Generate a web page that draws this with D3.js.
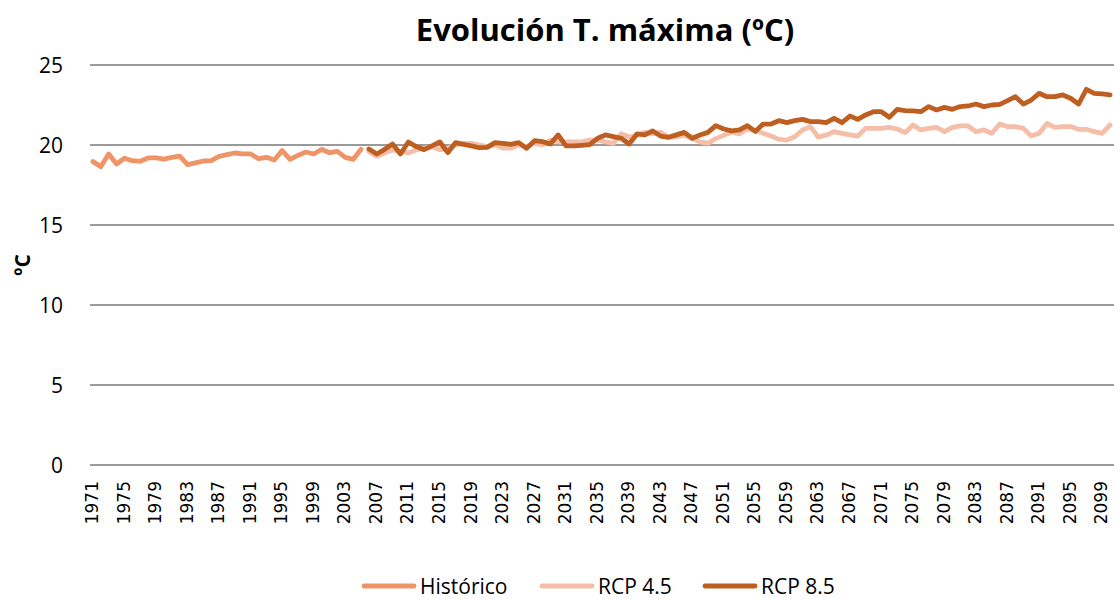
<!DOCTYPE html>
<html>
<head>
<meta charset="utf-8">
<script src="https://cdn.jsdelivr.net/npm/d3@7"></script>
<style>
  body { margin: 0; background: #fff; }
  text { font-family: "Open Sans", Lato, sans-serif; fill: #000; }
</style>
</head>
<body>
<svg id="chart" width="1114" height="599"></svg>
<script>
// years 1971..2100
var years = d3.range(1971, 2101);
var histYears = d3.range(1971, 2006);
var rcpYears = d3.range(2006, 2101);
var tickYears = d3.range(1971, 2100, 4);
var yTicks = [0, 5, 10, 15, 20, 25];

var historico = [18.96, 18.65, 19.44, 18.81, 19.17, 19.02, 18.98, 19.19, 19.19, 19.12,
  19.23, 19.31, 18.77, 18.88, 19.0, 19.02, 19.29, 19.4, 19.5, 19.44,
  19.44, 19.15, 19.23, 19.06, 19.65, 19.1, 19.35, 19.56, 19.44, 19.73,
  19.52, 19.6, 19.23, 19.1, 19.73];

var rcp45 = [19.6, 19.3, 19.5, 19.7, 19.6, 19.5, 19.7, 19.8, 19.9, 19.7,
  19.8, 20.0, 20.1, 20.1, 20.0, 19.9, 20.0, 19.8, 19.8, 20.0,
  19.9, 20.1, 20.0, 20.3, 20.2, 20.2, 20.2, 20.2, 20.3, 20.3,
  20.2, 20.1, 20.7, 20.5, 20.6, 20.8, 20.7, 20.8, 20.5, 20.5,
  20.6, 20.4, 20.2, 20.1, 20.4, 20.6, 20.8, 20.7, 21.0, 20.9,
  20.73, 20.56, 20.35, 20.31, 20.52, 20.94, 21.15, 20.48, 20.63, 20.83,
  20.73, 20.63, 20.56, 21.04, 21.04, 21.04, 21.1, 21.0, 20.77, 21.25,
  20.94, 21.04, 21.1, 20.83, 21.1, 21.19, 21.19, 20.83, 20.94, 20.73,
  21.31, 21.15, 21.15, 21.04, 20.56, 20.73, 21.35, 21.1, 21.15, 21.15,
  20.98, 20.98, 20.83, 20.73, 21.25];

var rcp85 = [19.75, 19.44, 19.73, 20.06, 19.44, 20.19, 19.9, 19.71, 19.95, 20.19,
  19.52, 20.15, 20.04, 19.94, 19.83, 19.85, 20.15, 20.1, 20.04, 20.15,
  19.79, 20.27, 20.21, 20.06, 20.63, 19.94, 19.94, 19.98, 20.02, 20.42,
  20.63, 20.52, 20.42, 20.06, 20.69, 20.63, 20.88, 20.56, 20.48, 20.63,
  20.79, 20.42, 20.63, 20.79, 21.21, 21.0, 20.88, 20.94, 21.21, 20.85,
  21.31, 21.31, 21.52, 21.4, 21.52, 21.6, 21.46, 21.46, 21.4, 21.67,
  21.4, 21.81, 21.6, 21.88, 22.08, 22.08, 21.73, 22.23, 22.15, 22.13,
  22.08, 22.4, 22.19, 22.35, 22.23, 22.4, 22.44, 22.56, 22.4, 22.5,
  22.54, 22.77, 23.02, 22.56, 22.81, 23.23, 23.02, 23.02, 23.13, 22.92,
  22.56, 23.48, 23.23, 23.19, 23.13];

var series = [
  { name: 'Histórico', color: '#EE9466', years: histYears, values: historico },
  { name: 'RCP 4.5', color: '#F4BEA8', years: rcpYears, values: rcp45 },
  { name: 'RCP 8.5', color: '#BE5E20', years: rcpYears, values: rcp85 }
];

var svg = d3.select('#chart');
var plotLeft = 89, plotRight = 1114, plotTop = 65, plotBottom = 465;

var x = d3.scalePoint().domain(years).range([plotLeft, plotRight]).padding(0.5);
var y = d3.scaleLinear().domain([0, 25]).range([plotBottom, plotTop]);

// gridlines
svg.append('g')
  .selectAll('line')
  .data(yTicks)
  .join('line')
  .attr('x1', plotLeft + 1)
  .attr('x2', plotRight)
  .attr('y1', function(d) { return y(d); })
  .attr('y2', function(d) { return y(d); })
  .attr('stroke', '#9a9a9a')
  .attr('stroke-width', 1.8);

// y labels
svg.append('g')
  .selectAll('text')
  .data(yTicks)
  .join('text')
  .attr('x', 63)
  .attr('y', function(d) { return y(d); })
  .attr('dy', '0.36em')
  .attr('text-anchor', 'end')
  .style('font-size', '21px')
  .text(function(d) { return d; });

// x labels, rotated
svg.append('g')
  .selectAll('text')
  .data(tickYears)
  .join('text')
  .attr('transform', function(d) { return 'translate(' + (x(d) - 1) + ',481) rotate(-90)'; })
  .attr('dy', '0.36em')
  .attr('text-anchor', 'end')
  .style('font-family', '"DejaVu Sans", sans-serif')
  .style('font-size', '17px')
  .text(function(d) { return d; });

// lines
var line = d3.line()
  .x(function(d) { return x(d[0]); })
  .y(function(d) { return y(d[1]); });

series.forEach(function(s) {
  var pts = s.years.map(function(yr, i) { return [yr, s.values[i]]; });
  svg.append('path')
    .datum(pts)
    .attr('d', line)
    .attr('fill', 'none')
    .attr('stroke', s.color)
    .attr('stroke-width', 4.8)
    .attr('stroke-linejoin', 'round')
    .attr('stroke-linecap', 'round');
});

// title
svg.append('text')
  .attr('x', 605)
  .attr('y', 41)
  .attr('text-anchor', 'middle')
  .style('font-size', '31px')
  .style('font-weight', 'bold')
  .text('Evolución T. máxima (ºC)');

// y axis title
svg.append('text')
  .attr('transform', 'translate(30,265) rotate(-90)')
  .attr('text-anchor', 'middle')
  .style('font-size', '21px')
  .style('font-weight', 'bold')
  .text('ºC');

// legend
var legendX = [362, 540, 703];
var leg = svg.append('g')
  .selectAll('g')
  .data(series)
  .join('g')
  .attr('transform', function(d, i) { return 'translate(' + legendX[i] + ',586)'; });

leg.append('line')
  .attr('x1', 2).attr('x2', 52)
  .attr('stroke', function(d) { return d.color; })
  .attr('stroke-width', 4.8)
  .attr('stroke-linecap', 'round');

leg.append('text')
  .attr('x', 58)
  .attr('dy', '0.36em')
  .style('font-size', '21px')
  .text(function(d) { return d.name; });
</script>
</body>
</html>
